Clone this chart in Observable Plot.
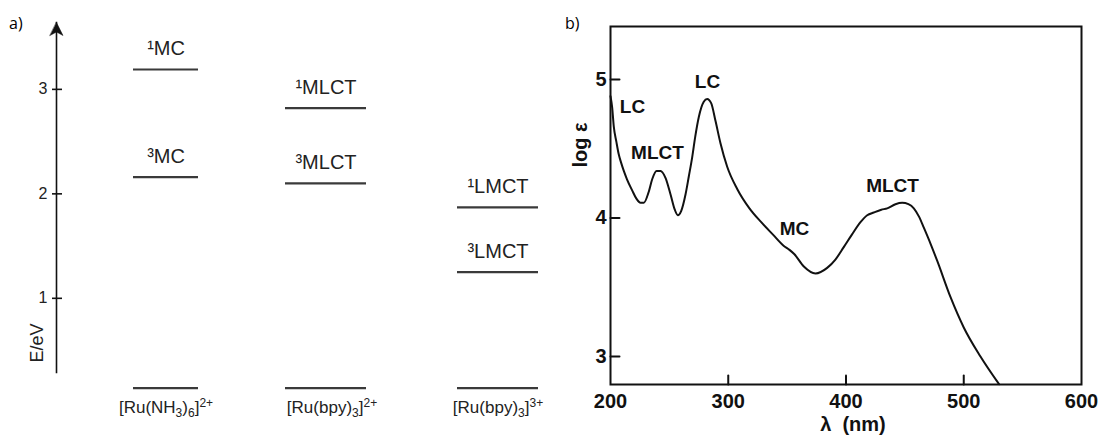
<!DOCTYPE html>
<html><head><meta charset="utf-8">
<script src="https://cdn.jsdelivr.net/npm/d3@7"></script>
<script src="https://cdn.jsdelivr.net/npm/@observablehq/plot@0.6"></script>
<style>
body{margin:0;background:#fff;}
#wrap{position:relative;width:1101px;height:441px;overflow:hidden;background:#fff;}
#a{position:absolute;left:0;top:0;}
#b{position:absolute;left:560px;top:0;}
.tag{position:absolute;font:16px "Open Sans","Liberation Sans",sans-serif;color:#000;}
</style></head><body>
<div id="wrap"><div id="a"></div><div id="b"></div>
<div class="tag" style="left:9px;top:12px">a)</div>
<div class="tag" style="left:565px;top:12px">b)</div></div>
<script>
// ---------- panel a: energy levels ----------
const compounds = ["[Ru(NH₃)₆]²⁺", "[Ru(bpy)₃]²⁺", "[Ru(bpy)₃]³⁺"];
const levelCompound = [0, 0, 0, 1, 1, 1, 2, 2, 2];
const levelLabel = ["¹MC", "³MC", "", "¹MLCT", "³MLCT", "", "¹LMCT", "³LMCT", ""];
const levelEnergy = [3.19, 2.16, 0.14, 2.82, 2.10, 0.14, 1.87, 1.25, 0.14];
const energyTicks = [1, 2, 3];
const energyAxisLabel = "E/eV";

// ---------- panel b: absorption spectrum ----------
const wavelength = [200, 201.4, 202.8, 205, 207, 209, 211.3, 214, 218.4, 222, 225.5, 228.3, 232.5, 235.4, 239.1, 242.5, 246.7, 251, 254.6, 257.2, 260, 263.7, 266.5, 269.4, 272, 275, 279.2, 282.1, 285.5, 289.2, 293.4, 299.1, 307.6, 318, 328, 338, 347, 352, 356, 364.2, 374.1, 384, 391, 398.1, 405, 412.3, 418, 423.6, 430, 435, 442, 447.7, 453, 457.6, 462, 466.1, 472, 477.5, 488.7, 500, 514.2, 530];
const logEps = [4.88, 4.80, 4.66, 4.55, 4.46, 4.40, 4.34, 4.28, 4.20, 4.14, 4.11, 4.11, 4.19, 4.28, 4.34, 4.34, 4.29, 4.17, 4.06, 4.02, 4.05, 4.17, 4.30, 4.44, 4.59, 4.73, 4.84, 4.86, 4.83, 4.70, 4.54, 4.37, 4.21, 4.07, 3.97, 3.88, 3.80, 3.77, 3.74, 3.65, 3.60, 3.64, 3.70, 3.79, 3.88, 3.97, 4.02, 4.04, 4.06, 4.07, 4.10, 4.11, 4.10, 4.07, 4.01, 3.93, 3.81, 3.69, 3.43, 3.21, 3.00, 2.80];
const bandText = ["LC", "LC", "MLCT", "MC", "MLCT"];
const bandWavelength = [218.7, 282.4, 239.9, 356.3, 439.5];
const bandLogEps = [4.80, 4.98, 4.47, 3.92, 4.23];
const xTicks = [200, 300, 400, 500, 600];
const yTicks = [3, 4, 5];
const xLabel = "λ  (nm)";
const yLabel = "log ε";

const levels = levelLabel.map((label, i) => ({compound: compounds[levelCompound[i]], label, E: levelEnergy[i]}));
const spectrum = wavelength.map((w, i) => ({w, e: logEps[i]}));
const bands = bandText.map((t, i) => ({t, w: bandWavelength[i], e: bandLogEps[i]}));

const arrowHead = {draw(ctx, l) {
  ctx.moveTo(0, -l); ctx.lineTo(6.5, 0); ctx.lineTo(0, -3.5); ctx.lineTo(-6.5, 0); ctx.closePath();
}};
const tickLine = {draw(ctx, l) { ctx.moveTo(0, 0); ctx.lineTo(0, -l); }};

const sans = "'Liberation Sans', Arial, Helvetica, sans-serif";
const c0 = d => d.compound === compounds[0];
const c1 = d => d.compound === compounds[1];
const c2 = d => d.compound === compounds[2];

const plotA = Plot.plot({
  width: 560, height: 441,
  marginLeft: 56, marginRight: 0, marginTop: 22, marginBottom: 69,
  style: {fontFamily: sans, color: "#222", background: "transparent"},
  x: {type: "band", domain: compounds, range: [39, 624], padding: 0.5135, axis: null},
  y: {domain: [0.29, 3.64], axis: null},
  marks: [
    Plot.frame({anchor: "left", stroke: "#111", strokeWidth: 1.6}),
    Plot.vector([0], {frameAnchor: "top-left", length: 13, anchor: "end", rotate: 0, shape: arrowHead, fill: "#111", stroke: "#111", strokeWidth: 0.5}),
    Plot.axisY({ticks: energyTicks, tickFormat: d => String(d), tickSize: 10, dx: 6, tickPadding: 5, fontSize: 16, strokeWidth: 1.6, label: null, stroke: "#111"}),
    Plot.text([energyAxisLabel], {frameAnchor: "bottom-left", rotate: -90, textAnchor: "start", dx: -14, dy: -10, fontSize: 18}),
    Plot.tickY(levels.filter(c0), {x: "compound", y: "E", stroke: "#3a3a3a", strokeWidth: 2.2, insetLeft: 8, insetRight: 8}),
    Plot.tickY(levels.filter(c1), {x: "compound", y: "E", stroke: "#3a3a3a", strokeWidth: 2.2, dx: -6}),
    Plot.tickY(levels.filter(c2), {x: "compound", y: "E", stroke: "#3a3a3a", strokeWidth: 2.2}),
    Plot.text(levels.filter(d => d.label && !c1(d)), {x: "compound", y: "E", text: "label", dy: -21, fontSize: 20}),
    Plot.text(levels.filter(d => d.label && c1(d)), {x: "compound", y: "E", text: "label", dy: -21, dx: -6, fontSize: 20}),
    Plot.text(compounds, {x: d => d, frameAnchor: "bottom", dy: 40, fontSize: 17, className: "cmpd"})
  ]
});
document.getElementById("a").append(plotA);

// turn Unicode sub/superscripts of the compound labels into real shifted tspans
const subMap = {"₀":"0","₁":"1","₂":"2","₃":"3","₄":"4","₅":"5","₆":"6","₇":"7","₈":"8","₉":"9"};
const supMap = {"⁰":"0","¹":"1","²":"2","³":"3","⁴":"4","⁵":"5","⁶":"6","⁷":"7","⁸":"8","⁹":"9","⁺":"+","⁻":"−"};
d3.select(plotA).selectAll("g.cmpd text").each(function() {
  const s = this.textContent;
  const runs = [];
  for (const ch of s) {
    const type = subMap[ch] ? "sub" : supMap[ch] ? "sup" : "n";
    const c = subMap[ch] || supMap[ch] || ch;
    if (runs.length && runs[runs.length - 1].type === type) runs[runs.length - 1].t += c;
    else runs.push({type, t: c});
  }
  const el = d3.select(this);
  el.text(null);
  let shift = 0;
  for (const r of runs) {
    const target = r.type === "sub" ? 4 : r.type === "sup" ? -6 : 0;
    const ts = el.append("tspan").attr("dy", target - shift).text(r.t);
    if (r.type !== "n") ts.attr("font-size", 12);
    shift = target;
  }
});

const plotB = Plot.plot({
  width: 541, height: 441,
  marginLeft: 50, marginRight: 20, marginTop: 26, marginBottom: 57,
  style: {fontFamily: sans, fontWeight: "bold", color: "#111", background: "transparent"},
  x: {domain: [200, 600], axis: null},
  y: {domain: [2.798, 5.383], axis: null},
  marks: [
    Plot.frame({stroke: "#111", strokeWidth: 2}),
    Plot.vector(yTicks, {y: d => d, frameAnchor: "left", length: 9, rotate: 90, anchor: "start", shape: tickLine, strokeWidth: 2}),
    Plot.vector(xTicks.slice(1, -1), {x: d => d, frameAnchor: "bottom", length: 9, rotate: 0, anchor: "start", shape: tickLine, strokeWidth: 2}),
    Plot.axisY({ticks: yTicks, tickFormat: d => String(d), tickSize: 0, tickPadding: 4, fontSize: 20, fontWeight: "bold", label: null}),
    Plot.axisX({ticks: xTicks, tickFormat: d => String(d), tickSize: 0, tickPadding: 9, fontSize: 20, fontWeight: "bold", label: null}),
    Plot.line(spectrum, {x: "w", y: "e", curve: "monotone-x", stroke: "#111", strokeWidth: 2}),
    Plot.text(bands, {x: "w", y: "e", text: "t", fontSize: 19, fontWeight: "bold"}),
    Plot.text([yLabel], {frameAnchor: "left", rotate: -90, dx: -30, dy: -38, fontSize: 20, fontWeight: "bold"}),
    Plot.text([xLabel], {frameAnchor: "bottom", dy: 46, dx: 7, fontSize: 20, fontWeight: "bold"})
  ]
});
document.getElementById("b").append(plotB);
</script>
</body></html>
